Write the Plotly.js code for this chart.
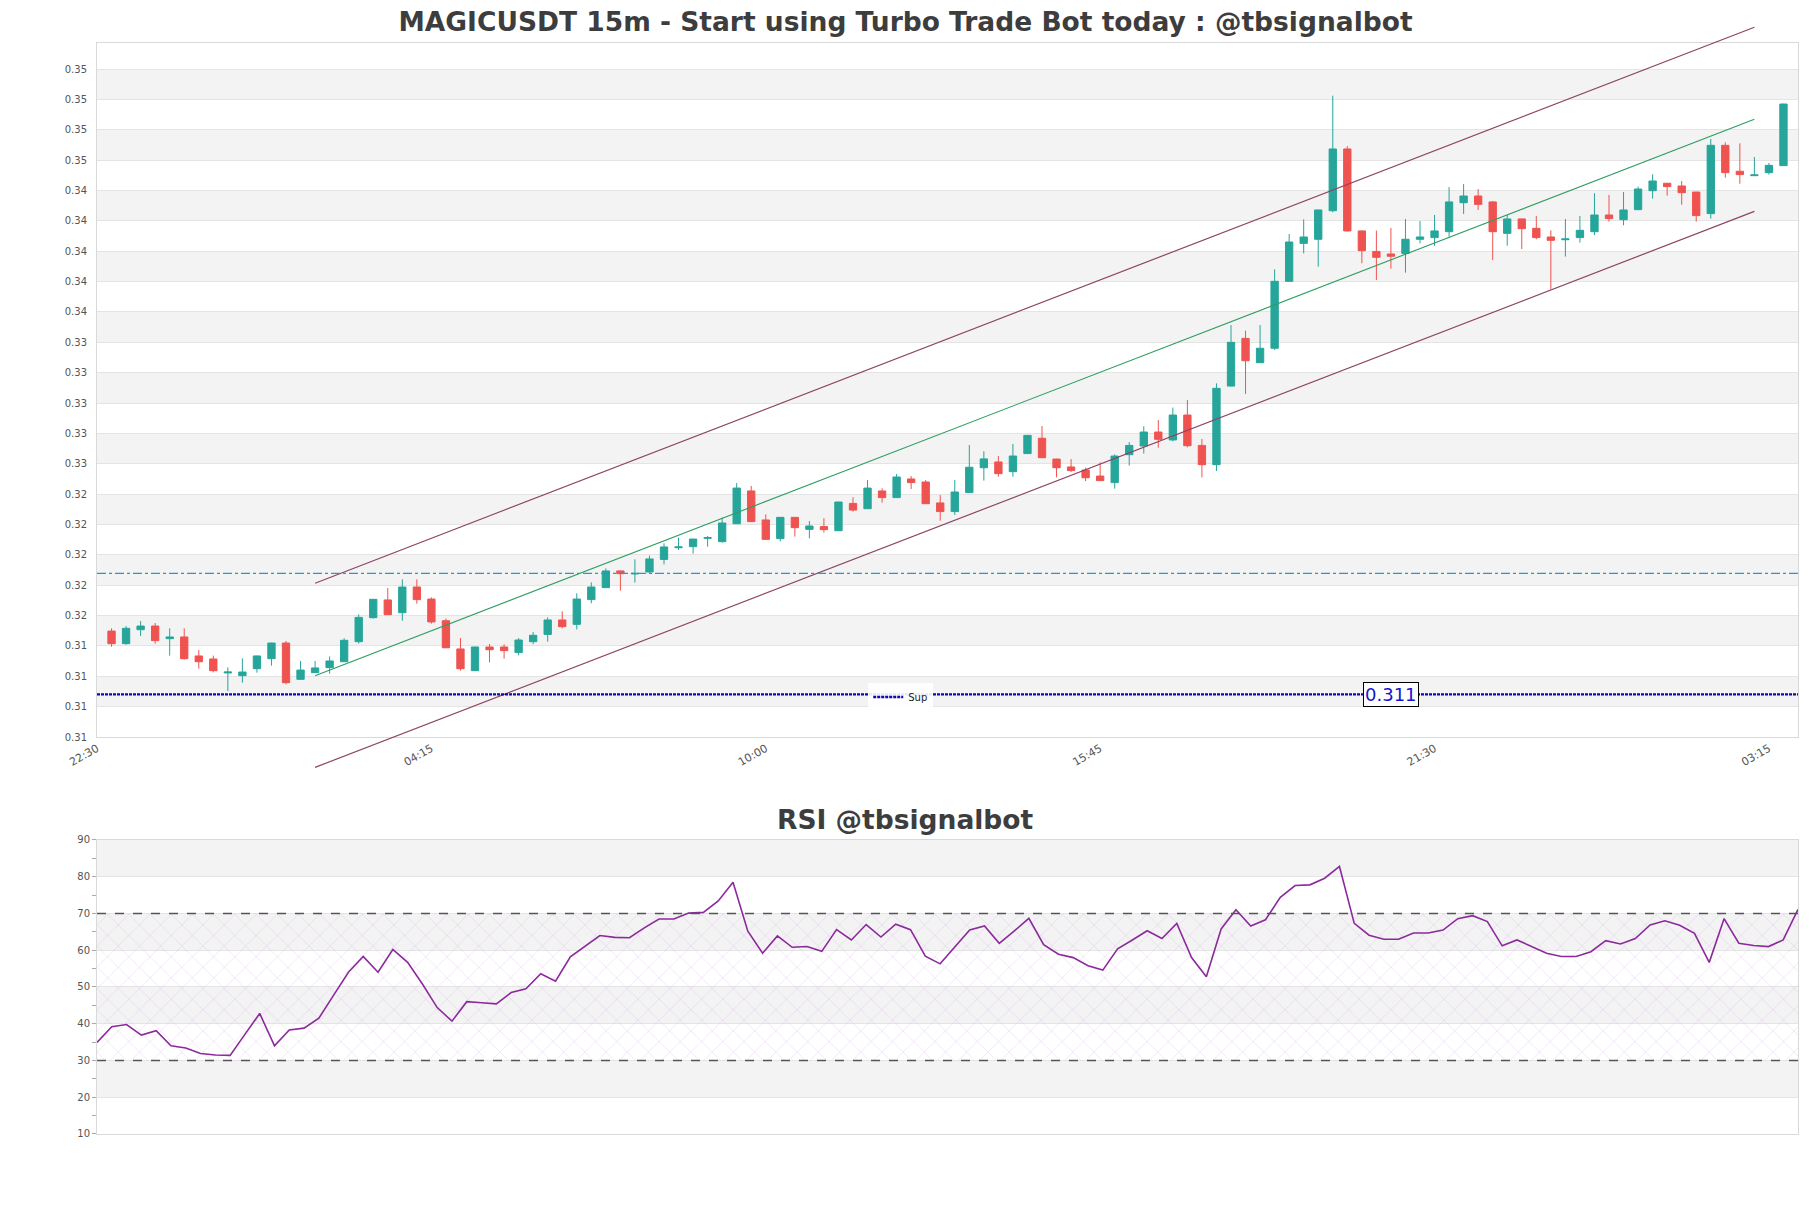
<!DOCTYPE html>
<html>
<head>
<meta charset="utf-8">
<script src="https://cdn.plot.ly/plotly-3.0.1.min.js"></script>
<style>
    html, body { margin: 0; padding: 0; background: #fff; }
    #chart { width: 1811px; height: 1208px; }
</style>
</head>
<body>
<div id="chart"></div>
<script>
// 15m bars, first one at 22:45
let opens = [0.31498, 0.31415, 0.31507, 0.31531, 0.31448, 0.31459, 0.31334, 0.31314, 0.31222, 0.31204,
    0.31250, 0.31316, 0.31419, 0.31180, 0.31224, 0.31257, 0.31296, 0.31428, 0.31586, 0.31703,
    0.31619, 0.31788, 0.31709, 0.31566, 0.31380, 0.31237, 0.31393, 0.31393, 0.31356, 0.31428,
    0.31476, 0.31571, 0.31542, 0.31705, 0.31784, 0.31894, 0.31874, 0.31887, 0.31970, 0.32047,
    0.32054, 0.32109, 0.32087, 0.32205, 0.32421, 0.32230, 0.32107, 0.32247, 0.32168, 0.32186,
    0.32159, 0.32339, 0.32304, 0.32421, 0.32377, 0.32500, 0.32480, 0.32342, 0.32285, 0.32410,
    0.32574, 0.32612, 0.32548, 0.32667, 0.32768, 0.32631, 0.32579, 0.32559, 0.32519, 0.32476,
    0.32660, 0.32717, 0.32809, 0.32757, 0.32921, 0.32721, 0.32594, 0.33112, 0.33426, 0.33266,
    0.33361, 0.33802, 0.34052, 0.34079, 0.34267, 0.34674, 0.34134, 0.33999, 0.33982, 0.33986,
    0.34079, 0.34090, 0.34129, 0.34320, 0.34364, 0.34325, 0.34118, 0.34213, 0.34151, 0.34094,
    0.34076, 0.34090, 0.34129, 0.34239, 0.34208, 0.34274, 0.34399, 0.34448, 0.34430, 0.34390,
    0.34248, 0.34698, 0.34527, 0.34498, 0.34518, 0.34564];
let highs = [0.31516, 0.31531, 0.31564, 0.31551, 0.31516, 0.31516, 0.31373, 0.31336, 0.31259, 0.31318,
    0.31336, 0.31421, 0.31433, 0.31301, 0.31301, 0.31331, 0.31450, 0.31608, 0.31709, 0.31782,
    0.31839, 0.31839, 0.31720, 0.31580, 0.31452, 0.31395, 0.31413, 0.31411, 0.31452, 0.31492,
    0.31588, 0.31628, 0.31746, 0.31819, 0.31911, 0.31896, 0.31970, 0.31995, 0.32076, 0.32113,
    0.32106, 0.32124, 0.32245, 0.32473, 0.32454, 0.32267, 0.32249, 0.32249, 0.32223, 0.32241,
    0.32350, 0.32379, 0.32493, 0.32438, 0.32533, 0.32519, 0.32493, 0.32394, 0.32493, 0.32724,
    0.32682, 0.32651, 0.32730, 0.32790, 0.32849, 0.32633, 0.32631, 0.32574, 0.32609, 0.32662,
    0.32743, 0.32847, 0.32888, 0.32970, 0.33020, 0.32763, 0.33130, 0.33514, 0.33477, 0.33514,
    0.33881, 0.34114, 0.34210, 0.34274, 0.35025, 0.34693, 0.34136, 0.34136, 0.34153, 0.34213,
    0.34199, 0.34239, 0.34423, 0.34443, 0.34410, 0.34331, 0.34239, 0.34215, 0.34232, 0.34138,
    0.34213, 0.34232, 0.34382, 0.34371, 0.34390, 0.34426, 0.34507, 0.34450, 0.34463, 0.34392,
    0.34740, 0.34718, 0.34711, 0.34621, 0.34582, 0.34972];
let lows = [0.31395, 0.31408, 0.31465, 0.31415, 0.31336, 0.31310, 0.31250, 0.31226, 0.31103, 0.31158,
    0.31224, 0.31270, 0.31147, 0.31178, 0.31222, 0.31217, 0.31294, 0.31415, 0.31580, 0.31604,
    0.31566, 0.31678, 0.31547, 0.31386, 0.31237, 0.31235, 0.31292, 0.31316, 0.31338, 0.31411,
    0.31428, 0.31516, 0.31509, 0.31681, 0.31784, 0.31764, 0.31817, 0.31883, 0.31937, 0.32032,
    0.32008, 0.32054, 0.32080, 0.32203, 0.32217, 0.32100, 0.32089, 0.32120, 0.32109, 0.32146,
    0.32157, 0.32285, 0.32302, 0.32344, 0.32375, 0.32434, 0.32335, 0.32225, 0.32263, 0.32408,
    0.32489, 0.32515, 0.32515, 0.32665, 0.32638, 0.32511, 0.32546, 0.32486, 0.32487, 0.32436,
    0.32588, 0.32667, 0.32706, 0.32748, 0.32708, 0.32511, 0.32552, 0.33110, 0.33060, 0.33264,
    0.33350, 0.33800, 0.33986, 0.33898, 0.34257, 0.34130, 0.33921, 0.33811, 0.33885, 0.33859,
    0.34052, 0.34035, 0.34096, 0.34246, 0.34272, 0.33942, 0.34037, 0.34015, 0.34079, 0.33749,
    0.33965, 0.34057, 0.34107, 0.34195, 0.34171, 0.34272, 0.34347, 0.34366, 0.34307, 0.34195,
    0.34215, 0.34485, 0.34445, 0.34496, 0.34505, 0.34562];
let closes = [0.31415, 0.31516, 0.31531, 0.31435, 0.31459, 0.31316, 0.31296, 0.31237, 0.31228, 0.31228,
    0.31334, 0.31419, 0.31158, 0.31241, 0.31255, 0.31301, 0.31437, 0.31588, 0.31707, 0.31606,
    0.31788, 0.31705, 0.31558, 0.31388, 0.31250, 0.31393, 0.31375, 0.31369, 0.31439, 0.31470,
    0.31571, 0.31527, 0.31709, 0.31788, 0.31894, 0.31876, 0.31878, 0.31973, 0.32052, 0.32052,
    0.32104, 0.32113, 0.32210, 0.32440, 0.32219, 0.32102, 0.32247, 0.32179, 0.32190, 0.32166,
    0.32348, 0.32295, 0.32440, 0.32377, 0.32513, 0.32476, 0.32337, 0.32285, 0.32414, 0.32577,
    0.32632, 0.32535, 0.32651, 0.32787, 0.32640, 0.32574, 0.32555, 0.32508, 0.32489, 0.32651,
    0.32721, 0.32809, 0.32761, 0.32921, 0.32719, 0.32594, 0.33097, 0.33400, 0.33279, 0.33361,
    0.33802, 0.34061, 0.34094, 0.34272, 0.34674, 0.34134, 0.34004, 0.33960, 0.33967, 0.34079,
    0.34094, 0.34134, 0.34325, 0.34364, 0.34309, 0.34129, 0.34213, 0.34149, 0.34090, 0.34072,
    0.34081, 0.34138, 0.34239, 0.34215, 0.34272, 0.34410, 0.34463, 0.34426, 0.34386, 0.34235,
    0.34698, 0.34518, 0.34505, 0.34503, 0.34566, 0.34970];

let rsiValues = [34.9, 39.2, 39.8, 36.9, 38.1, 34.0, 33.4, 31.9, 31.5, 31.4,
    37.1, 42.8, 34.0, 38.3, 38.8, 41.5, 47.8, 54.0, 58.3, 54.0,
    60.2, 56.7, 50.8, 44.4, 40.7, 46.0, 45.7, 45.4, 48.5, 49.5,
    53.6, 51.6, 58.2, 61.0, 64.0, 63.5, 63.4, 66.1, 68.5, 68.5,
    70.1, 70.3, 73.4, 78.5, 65.2, 59.2, 63.9, 60.8, 61.0, 59.7,
    65.6, 62.8, 67.0, 63.6, 67.1, 65.6, 58.4, 56.3, 61.0, 65.5,
    66.6, 61.9, 65.2, 68.7, 61.5, 58.9, 58.0, 55.8, 54.6, 60.4,
    62.8, 65.3, 63.2, 67.3, 58.0, 52.8, 65.8, 71.0, 66.6, 68.3,
    74.4, 77.6, 77.8, 79.6, 82.8, 67.3, 64.1, 63.0, 63.0, 64.7,
    64.7, 65.5, 68.6, 69.4, 67.8, 61.2, 62.8, 61.0, 59.2, 58.3,
    58.3, 59.6, 62.6, 61.7, 63.2, 66.9, 68.0, 66.8, 64.6, 56.7,
    68.6, 61.9, 61.3, 61.0, 62.8, 71.1];

let priceTicks = [0.308, 0.310, 0.312, 0.314, 0.316, 0.318, 0.320, 0.322, 0.324, 0.326, 0.328, 0.330,
    0.332, 0.334, 0.336, 0.338, 0.340, 0.342, 0.344, 0.346, 0.348, 0.350, 0.352];
let rsiTicks = [10, 20, 30, 40, 50, 60, 70, 80, 90];

// levels and channel (channel runs from bar 14 to bar 113)
let supLevel = 0.31081;
let dashLevel = 0.31878;
let channelBars = [14, 113];
let channelUpper = [0.31813, 0.35476];
let channelMid = [0.31204, 0.34869];
let channelLower = [0.30600, 0.34263];
let rsiLow = 30;
let rsiHigh = 70;
let labelBar = 88;

const barMs = 15 * 60 * 1000;
const firstBar = Date.UTC(2024, 0, 1, 22, 45);
function toDateStr(ms) {
    return new Date(ms).toISOString().replace('T', ' ').slice(0, 19);
}
let times = opens.map((o, i) => toDateStr(firstBar + i * barMs));
let last = times.length - 1;
let xStart = toDateStr(firstBar - barMs);
let xEnd = toDateStr(firstBar + (last + 1) * barMs);

const font = 'DejaVu Sans, sans-serif';
const frame = '#d9d9d9';
const grid = '#e4e4e4';
const band = '#f3f3f3';

// main price panel geometry, channel axis is the same scale but taller so lines can run past the frame
let yDomain = [0.3899, 0.9644];
let yRange = [0.308, 0.35372];
let y3Domain = [0.33, 0.995];
let perDomain = (yRange[1] - yRange[0]) / (yDomain[1] - yDomain[0]);
let y3Range = [yRange[0] - (yDomain[0] - y3Domain[0]) * perDomain, yRange[1] + (y3Domain[1] - yDomain[1]) * perDomain];

let shapes = [];
priceTicks.forEach((v, k) => {
    if (k % 2 === 1 && k + 1 < priceTicks.length) {
        shapes.push({type: 'rect', xref: 'paper', yref: 'y', x0: 0, x1: 1, y0: v, y1: priceTicks[k + 1],
            fillcolor: band, line: {width: 0}, layer: 'below'});
    }
});
rsiTicks.forEach((v, k) => {
    if (k % 2 === 1 && k + 1 < rsiTicks.length) {
        shapes.push({type: 'rect', xref: 'paper', yref: 'y2', x0: 0, x1: 1, y0: v, y1: rsiTicks[k + 1],
            fillcolor: band, line: {width: 0}, layer: 'below'});
    }
});
shapes.push({type: 'line', xref: 'x domain', yref: 'y', x0: 0, x1: 1, y0: dashLevel, y1: dashLevel,
    line: {color: '#1f9ad6', width: 1.2, dash: 'dashdot'}});
shapes.push({type: 'line', xref: 'x domain', yref: 'y', x0: 0, x1: 1, y0: supLevel, y1: supLevel,
    line: {color: '#0a0ab4', width: 2.4, dash: '3px,1px'}, name: 'Sup', showlegend: true});
[rsiLow, rsiHigh].forEach(v => {
    shapes.push({type: 'line', xref: 'x2 domain', yref: 'y2', x0: 0, x1: 1, y0: v, y1: v,
        line: {color: '#555555', width: 1.3, dash: 'dash'}, layer: 'above'});
});

let channelX = channelBars.map(i => times[i]);
let traces = [
    {
        type: 'candlestick',
        x: times, open: opens, high: highs, low: lows, close: closes,
        xaxis: 'x', yaxis: 'y',
        increasing: {line: {color: '#26a69a', width: 1}, fillcolor: '#26a69a'},
        decreasing: {line: {color: '#ef5350', width: 1}, fillcolor: '#ef5350'},
        whiskerwidth: 0,
        showlegend: false,
        hoverinfo: 'skip',
    },
    {x: channelX, y: channelUpper, xaxis: 'x', yaxis: 'y3', mode: 'lines', line: {color: '#8e4466', width: 1.2}, showlegend: false, hoverinfo: 'skip'},
    {x: channelX, y: channelMid, xaxis: 'x', yaxis: 'y3', mode: 'lines', line: {color: '#2e9e5e', width: 1.1}, showlegend: false, hoverinfo: 'skip'},
    {x: channelX, y: channelLower, xaxis: 'x', yaxis: 'y3', mode: 'lines', line: {color: '#8e4466', width: 1.2}, showlegend: false, hoverinfo: 'skip'},
    {
        x: [times[0], times[last]], y: [rsiLow, rsiLow], xaxis: 'x2', yaxis: 'y2',
        mode: 'lines', line: {width: 0}, showlegend: false, hoverinfo: 'skip',
    },
    {
        x: [times[0], times[last]], y: [rsiHigh, rsiHigh], xaxis: 'x2', yaxis: 'y2',
        mode: 'lines', line: {width: 0}, fill: 'tonexty', fillcolor: 'rgba(0,0,0,0)',
        fillpattern: {shape: 'x', fgcolor: 'rgba(205,150,225,0.5)', bgcolor: 'rgba(0,0,0,0)', size: 15, solidity: 0.06},
        showlegend: false, hoverinfo: 'skip',
    },
    {
        x: times, y: rsiValues, xaxis: 'x2', yaxis: 'y2',
        mode: 'lines', line: {color: '#8b2a9b', width: 1.6},
        showlegend: false, hoverinfo: 'skip',
    },
];

let layout = {
    width: 1811,
    height: 1208,
    margin: {l: 97, r: 13, t: 0, b: 0},
    paper_bgcolor: '#ffffff',
    plot_bgcolor: 'rgba(0,0,0,0)',
    font: {family: font, color: '#555555', size: 10},
    hovermode: false,
    boxgap: 0.28,
    title: {
        text: 'MAGICUSDT 15m - Start using Turbo Trade Bot today : @tbsignalbot',
        font: {family: font, size: 26.5, color: '#3d3d3d', weight: 'bold'},
        x: 0.5, xref: 'container', xanchor: 'center',
        y: 1 - 22 / 1208, yref: 'container', yanchor: 'middle',
    },
    xaxis: {
        type: 'date', domain: [0, 1], anchor: 'y',
        range: [xStart, xEnd],
        tick0: xStart, dtick: 23 * barMs, tickformat: '%H:%M', tickangle: -30,
        tickfont: {size: 11, color: '#555555'},
        showgrid: false, zeroline: false, ticks: '',
        showline: true, mirror: true, linecolor: frame, linewidth: 1,
        rangeslider: {visible: false},
    },
    yaxis: {
        domain: yDomain, anchor: 'x', range: yRange,
        tickmode: 'array', tickvals: priceTicks, tickformat: '.2f',
        tickfont: {size: 10, color: '#555555'}, ticklabelstandoff: 7,
        showgrid: true, gridcolor: grid, zeroline: false, ticks: '',
        showline: true, mirror: true, linecolor: frame, linewidth: 1,
    },
    yaxis3: {
        domain: y3Domain, anchor: 'x', range: y3Range, visible: false, fixedrange: true,
    },
    xaxis2: {
        type: 'date', domain: [0, 1], anchor: 'y2',
        range: [times[0], times[last]],
        showticklabels: false, showgrid: false, zeroline: false, ticks: '',
        showline: true, mirror: true, linecolor: frame, linewidth: 1,
    },
    yaxis2: {
        domain: [0.06126, 0.30464], anchor: 'x2', range: [10, 90],
        tickmode: 'array', tickvals: rsiTicks,
        tickfont: {size: 10, color: '#555555'},
        ticks: 'outside', ticklen: 4, tickcolor: '#aaaaaa',
        minor: {dtick: 5, ticks: 'outside', ticklen: 4, tickcolor: '#aaaaaa', showgrid: false},
        showgrid: true, gridcolor: grid, zeroline: false,
        showline: true, mirror: true, linecolor: frame, linewidth: 1,
    },
    shapes: shapes,
    showlegend: true,
    legend: {
        x: 0.4725, xanchor: 'center', y: 1 - 697 / 1208, yanchor: 'middle',
        bgcolor: 'rgba(255,255,255,0.9)', borderwidth: 0,
        font: {family: font, size: 10, color: '#222222'},
        itemwidth: 30,
    },
    annotations: [
        {
            x: times[labelBar], y: supLevel, xref: 'x', yref: 'y',
            text: supLevel.toFixed(3), showarrow: false,
            font: {family: font, size: 18, color: '#1414d2'},
            bgcolor: '#ffffff', bordercolor: '#000000', borderwidth: 1, borderpad: 1,
        },
        {
            x: 0.4753, y: 1 - 819 / 1208, xref: 'paper', yref: 'paper',
            xanchor: 'center', yanchor: 'middle',
            text: 'RSI @tbsignalbot', showarrow: false,
            font: {family: font, size: 26.5, color: '#3d3d3d', weight: 'bold'},
        },
    ],
};

let config = {
    displayModeBar: false,
    responsive: false,
    staticPlot: true,
};

Plotly.newPlot('chart', traces, layout, config);
</script>
</body>
</html>
